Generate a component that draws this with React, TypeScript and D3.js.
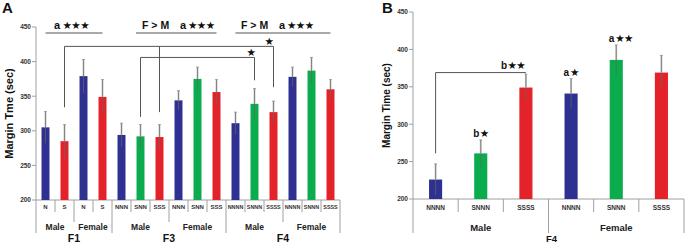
import React from "react";
import * as d3 from "d3";

// ---------- Panel A data ----------
const catsA = ["N", "S", "N", "S", "NNN", "SNN", "SSS", "NNN", "SNN", "SSS", "NNNN", "SNNN", "SSSS", "NNNN", "SNNN", "SSSS"];
const meansA = [305, 285, 379, 349, 294, 292, 291, 344, 375, 356, 311, 339, 327, 378, 387, 360];
const errsA = [23, 24, 24, 25, 17, 17, 18, 14, 17, 18, 16, 22, 16, 14, 19, 14];
const groupsA = ["Male", "Female", "Male", "Female", "Male", "Female"];
const groupSizesA = [2, 2, 3, 3, 3, 3];
const gensA = ["F1", "F3", "F4"];
const genSizesA = [4, 6, 6];
const yTicks = [200, 250, 300, 350, 400, 450];

// ---------- Panel B data ----------
const catsB = ["NNNN", "SNNN", "SSSS", "NNNN", "SNNN", "SSSS"];
const meansB = [226, 261, 349, 341, 386, 369];
const errsB = [21, 18, 18, 20, 20, 23];
const groupsB = ["Male", "Female"];
const labelsB = ["", "b", "", "a", "a", ""];
const starsB = [0, 1, 0, 1, 2, 0];

const W = 685;
const H = 243;
const FONT = "'Liberation Sans', Arial, sans-serif";
const BLUE = "#2e3192";
const GREEN = "#0aac4e";
const RED = "#e32329";
const AXIS = "#a0a0a0";
const DARK = "#555";

function colorOf(code: string) {
  if (code === "S") return RED;
  if (/^N+$/.test(code)) return BLUE;
  if (/^S+$/.test(code)) return RED;
  return GREEN;
}

// star glyph row, x = left edge, y = vertical centre
function Star({ x, y, n, size = 10.5 }: { x: number; y: number; n: number; size?: number }) {
  return (
    <text x={x} y={y + size * 0.36} fontFamily="'DejaVu Sans', sans-serif" fontSize={size} fill="#111" letterSpacing={-0.6}>
      {"\u2605".repeat(n)}
    </text>
  );
}

function ErrBar({ x, y0, y1, y2 }: { x: number; y0: number; y1: number; y2: number }) {
  return (
    <g>
      <line x1={x} x2={x} y1={y0} y2={y2} stroke="#c9c9c9" strokeWidth={2} />
      <line x1={x} x2={x} y1={y1} y2={y2} stroke="#666" strokeWidth={0.7} />
      <line x1={x - 1.5} x2={x + 1.5} y1={y2} y2={y2} stroke="#888" strokeWidth={0.7} />
    </g>
  );
}

export default function App() {
  // Panel A scales
  const xA = d3.scaleBand<number>().domain(d3.range(catsA.length)).range([36, 340]).paddingInner(0.58).paddingOuter(0.29);
  const stepA = xA.step();
  const leftA = 36;
  const yA = d3.scaleLinear().domain([200, 450]).range([200, 27]);
  const cxA = (i: number) => (xA(i) as number) + xA.bandwidth() / 2;
  const sepA = (i: number) => leftA + stepA * i;

  // Panel B scales
  const leftB = 413;
  const xB = d3.scaleBand<number>().domain(d3.range(catsB.length)).range([leftB, 684]).paddingInner(0.71).paddingOuter(0.355);
  const stepB = xB.step();
  const yB = d3.scaleLinear().domain([200, 450]).range([199, 12]);
  const cxB = (i: number) => (xB(i) as number) + xB.bandwidth() / 2;
  const sepB = (i: number) => leftB + stepB * i;

  const cumGroupsA = d3.cumsum(groupSizesA);
  const cumGensA = d3.cumsum(genSizesA);

  return (
    <svg width={W} height={H} style={{ position: "absolute", left: 0, top: 0, background: "#fff" }}>
      {/* ---------------- PANEL A ---------------- */}
      <text x={2} y={13} fontFamily={FONT} fontWeight="bold" fontSize={15} fill="#111">A</text>
      <text transform={`translate(13,${yA(325)}) rotate(-90)`} textAnchor="middle" fontFamily={FONT} fontWeight="bold" fontSize={11} fill="#111">
        Margin Tme (sec)
      </text>
      <line x1={leftA} x2={leftA} y1={yA(450)} y2={233} stroke={AXIS} strokeWidth={1} />
      {yTicks.map((t) => (
        <g key={"ta" + t}>
          <line x1={leftA - 4} x2={leftA} y1={yA(t)} y2={yA(t)} stroke={AXIS} />
          <text x={leftA - 5} y={yA(t) + 2.3} textAnchor="end" fontFamily={FONT} fontWeight="bold" fontSize={6.5} fill="#333">{t}</text>
        </g>
      ))}
      <line x1={leftA} x2={340} y1={yA(200)} y2={yA(200)} stroke={AXIS} />
      {d3.range(1, catsA.length + 1).map((i) => {
        let y2 = 212;
        if (cumGroupsA.includes(i)) y2 = 222;
        if (cumGensA.includes(i)) y2 = 233;
        return <line key={"sa" + i} x1={sepA(i)} x2={sepA(i)} y1={yA(200)} y2={y2} stroke={AXIS} />;
      })}
      {catsA.map((c, i) => (
        <text key={"ca" + i} x={cxA(i)} y={208.5} textAnchor="middle" fontFamily={FONT} fontWeight="bold" fontSize={c.length > 3 ? 5.4 : 6} fill="#333">{c}</text>
      ))}
      {groupsA.map((g, k) => {
        const s = k === 0 ? 0 : cumGroupsA[k - 1];
        const e = cumGroupsA[k];
        return (
          <text key={"ga" + k} x={(sepA(s) + sepA(e)) / 2} y={230} textAnchor="middle" fontFamily={FONT} fontWeight="bold" fontSize={8.5} fill="#222">{g}</text>
        );
      })}
      {gensA.map((g, k) => {
        const s = k === 0 ? 0 : cumGensA[k - 1];
        const e = cumGensA[k];
        return (
          <text key={"fa" + k} x={(sepA(s) + sepA(e)) / 2} y={242} textAnchor="middle" fontFamily={FONT} fontWeight="bold" fontSize={10.5} fill="#111">{g}</text>
        );
      })}
      {catsA.map((c, i) => (
        <g key={"ba" + i}>
          <rect x={xA(i)} y={yA(meansA[i])} width={xA.bandwidth()} height={yA(200) - yA(meansA[i])} fill={colorOf(c)} />
          <ErrBar x={cxA(i)} y0={yA(meansA[i])} y1={yA(meansA[i] - errsA[i])} y2={yA(meansA[i] + errsA[i])} />
        </g>
      ))}
      {/* header annotations */}
      <line x1={cxA(0)} x2={cxA(3)} y1={33} y2={33} stroke={DARK} />
      <text x={54} y={29} fontFamily={FONT} fontWeight="bold" fontSize={11} fill="#111">a</text>
      <Star x={62.5} y={25.5} n={3} />
      <line x1={cxA(4) + stepA * 0.76} x2={cxA(9)} y1={33} y2={33} stroke={DARK} />
      <text x={142} y={29} fontFamily={FONT} fontWeight="bold" fontSize={10.5} fill="#111">F &gt; M</text>
      <text x={180} y={29} fontFamily={FONT} fontWeight="bold" fontSize={11} fill="#111">a</text>
      <Star x={188} y={25.5} n={3} />
      <line x1={cxA(10)} x2={cxA(15)} y1={33} y2={33} stroke={DARK} />
      <text x={241} y={29} fontFamily={FONT} fontWeight="bold" fontSize={10.5} fill="#111">F &gt; M</text>
      <text x={279} y={29} fontFamily={FONT} fontWeight="bold" fontSize={11} fill="#111">a</text>
      <Star x={287} y={25.5} n={3} />
      {/* bracket 1 */}
      <path d={`M${cxA(1)},${yA(334)} V${yA(422)} H${cxA(12)} V${yA(363)}`} fill="none" stroke={DARK} />
      <line x1={cxA(6)} x2={cxA(6)} y1={yA(422)} y2={yA(327)} stroke={DARK} />
      <Star x={cxA(12) - 9} y={yA(422) - 5} n={1} />
      {/* bracket 2 */}
      <path d={`M${cxA(5)},${yA(320)} V${yA(406)} H${cxA(11)} V${yA(373)}`} fill="none" stroke={DARK} />
      <Star x={cxA(11) - 8} y={yA(406) - 5} n={1} />

      {/* ---------------- PANEL B ---------------- */}
      <text x={382} y={13} fontFamily={FONT} fontWeight="bold" fontSize={15} fill="#111">B</text>
      <text transform={`translate(390,${yB(325)}) rotate(-90)`} textAnchor="middle" fontFamily={FONT} fontWeight="bold" fontSize={10} fill="#111">
        Margin Time (sec)
      </text>
      <line x1={leftB} x2={leftB} y1={yB(450)} y2={233} stroke={AXIS} />
      {yTicks.map((t) => (
        <g key={"tb" + t}>
          <line x1={leftB - 4} x2={leftB} y1={yB(t)} y2={yB(t)} stroke={AXIS} />
          <text x={leftB - 5} y={yB(t) + 2.3} textAnchor="end" fontFamily={FONT} fontWeight="bold" fontSize={6.5} fill="#333">{t}</text>
        </g>
      ))}
      <line x1={leftB} x2={684} y1={yB(200)} y2={yB(200)} stroke={AXIS} />
      {d3.range(1, catsB.length + 1).map((i) => (
        <line key={"sb" + i} x1={sepB(i)} x2={sepB(i)} y1={yB(200)} y2={i === 3 || i === 6 ? 233 : 212} stroke={AXIS} />
      ))}
      {catsB.map((c, i) => (
        <text key={"cb" + i} x={cxB(i)} y={210} textAnchor="middle" fontFamily={FONT} fontWeight="bold" fontSize={6.5} fill="#333">{c}</text>
      ))}
      {groupsB.map((g, k) => (
        <text key={"gb" + k} x={(sepB(k * 3) + sepB(k * 3 + 3)) / 2} y={231} textAnchor="middle" fontFamily={FONT} fontWeight="bold" fontSize={9.5} fill="#222">{g}</text>
      ))}
      <text x={sepB(3) + 3} y={242} textAnchor="middle" fontFamily={FONT} fontWeight="bold" fontSize={9.5} fill="#111">F4</text>
      {catsB.map((c, i) => (
        <g key={"bb" + i}>
          <rect x={xB(i)} y={yB(meansB[i])} width={xB.bandwidth()} height={yB(200) - yB(meansB[i])} fill={colorOf(c)} />
          <ErrBar x={cxB(i)} y0={yB(meansB[i])} y1={yB(meansB[i] - errsB[i])} y2={yB(meansB[i] + errsB[i])} />
          {labelsB[i] && (
            <g>
              <text x={cxB(i) - 7.5} y={yB(meansB[i] + errsB[i]) - 3} fontFamily={FONT} fontWeight="bold" fontSize={10} fill="#111">{labelsB[i]}</text>
              <Star x={cxB(i) - 1} y={yB(meansB[i] + errsB[i]) - 6.5} n={starsB[i]} />
            </g>
          )}
        </g>
      ))}
      {/* bracket B */}
      <path d={`M${cxB(0)},${yB(261)} V${yB(369)} H${cxB(2)}`} fill="none" stroke={DARK} />
      <text x={cxB(2) - 25} y={yB(369) - 4} fontFamily={FONT} fontWeight="bold" fontSize={10} fill="#111">b</text>
      <Star x={cxB(2) - 18.5} y={yB(369) - 7.5} n={2} />
    </svg>
  );
}
